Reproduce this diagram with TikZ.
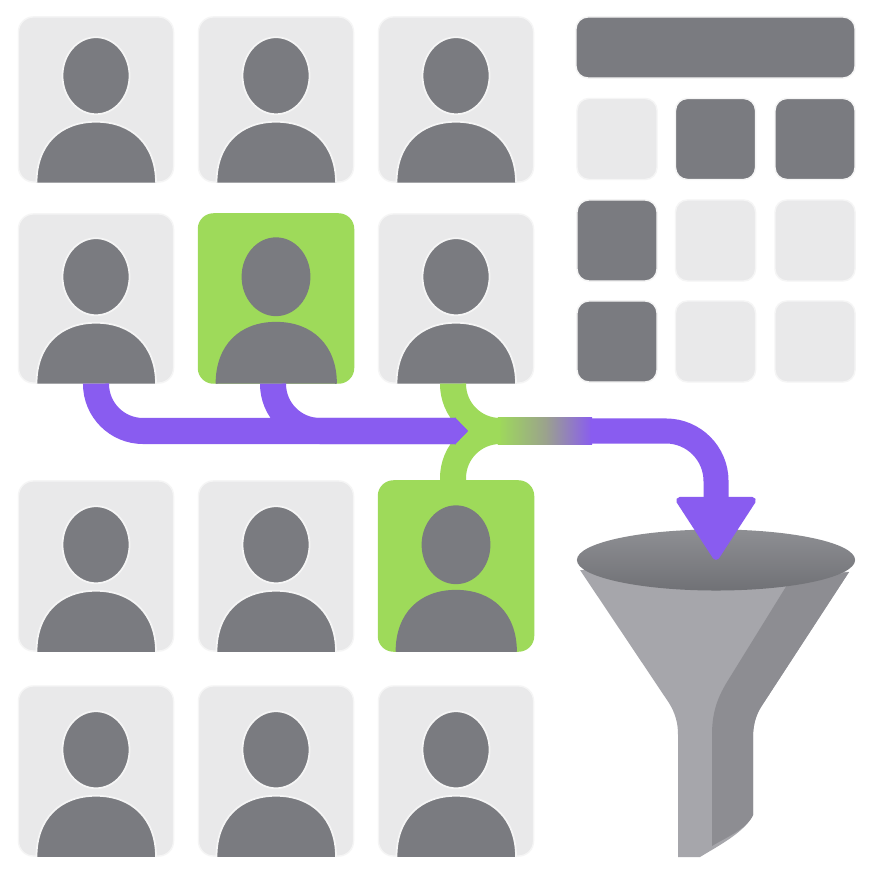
\documentclass[tikz,border=0pt]{standalone}
\usetikzlibrary{
    shapes.geometric,
    arrows.meta
}
\definecolor{cardgray}{RGB}{233,233,234}
\definecolor{persongray}{RGB}{122,123,128}
\definecolor{halo}{RGB}{245,245,245}
\definecolor{cardgreen}{RGB}{158,218,90}
\definecolor{flowpurple}{RGB}{137,92,240}
\definecolor{fadegray}{RGB}{155,163,140}
\definecolor{funnellight}{RGB}{166,166,171}
\definecolor{funneldark}{RGB}{141,141,146}
\tikzset{
    % Cards
    card/.style={
        rectangle,
        fill=cardgray,
        draw=halo,
        line width=0.4pt,
        rounded corners=0.15cm,
        minimum width=1.55cm,
        inner sep=0pt
    },
    pickedcard/.style={
        card,
        fill=cardgreen,
        draw=cardgreen
    },
    % Person figure
    personedge/.style={
        draw=halo
    },
    pickededge/.style={
        personedge/.style={draw=persongray}
    },
    head/.style={
        ellipse,
        fill=persongray,
        personedge,
        line width=0.5pt,
        minimum width=0.67cm,
        minimum height=0.77cm,
        inner sep=0pt
    },
    person/.pic={
        \draw[fill=persongray, personedge, line width=0.5pt] (-59.5,0)
            .. controls (-59.5,-38) and (-36,-61) .. (0,-61)
            .. controls (36,-61) and (60,-38) .. (60,0);
        \node[head] (-head) at (0,-107) {};
    },
    % Table
    tile/.style={
        rectangle,
        fill=cardgray,
        draw=halo,
        line width=0.4pt,
        rounded corners=0.12cm,
        minimum width=0.80cm,
        minimum height=0.81cm,
        inner sep=0pt
    },
    darktile/.style={
        tile,
        fill=persongray
    },
    % Flow lines
    purpleline/.style={
        draw=flowpurple,
        line width=0.26cm,
        rounded corners=0.47cm,
        -{Triangle[width=0.26cm,length=0.13cm]}
    },
    greenline/.style={
        draw=cardgreen,
        line width=0.26cm,
        rounded corners=0.47cm
    },
    bigarrow/.style={
        draw=flowpurple,
        line width=0.25cm,
        rounded corners=0.5cm,
        -{Triangle[round,line width=2pt,width=0.84cm,length=0.66cm]}
    },
    fadebar/.style={
        rectangle,
        left color=cardgreen,
        right color=flowpurple,
        middle color=fadegray,
        minimum width=0.94cm,
        minimum height=0.26cm,
        inner sep=0pt
    }
}

\begin{document}
\begin{tikzpicture}[x=0.01cm, y=-0.01cm]

    % Canvas
    \fill[white] (0,0) rectangle (874,874);
    \useasboundingbox (0,0) rectangle (874,874);

    % Cards
    \node[card, minimum height=1.65cm] (c11) at (96,99.5) {};
    \node[card, minimum height=1.65cm] (c12) at (276,99.5) {};
    \node[card, minimum height=1.65cm] (c13) at (456,99.5) {};
    \node[card, minimum height=1.69cm] (c21) at (96,298.5) {};
    \node[pickedcard, minimum height=1.69cm] (c22) at (276,298.5) {};
    \node[card, minimum height=1.69cm] (c23) at (456,298.5) {};
    \node[card, minimum height=1.70cm] (c31) at (96,566) {};
    \node[card, minimum height=1.70cm] (c32) at (276,566) {};
    \node[pickedcard, minimum height=1.70cm] (c33) at (456,566) {};
    \node[card, minimum height=1.70cm] (c41) at (96,771) {};
    \node[card, minimum height=1.70cm] (c42) at (276,771) {};
    \node[card, minimum height=1.70cm] (c43) at (456,771) {};

    % People
    \pic (p11) at (c11.south) {person};
    \pic (p12) at (c12.south) {person};
    \pic (p13) at (c13.south) {person};
    \pic (p21) at (c21.south) {person};
    \pic[pickededge] (p22) at (c22.south) {person};
    \pic (p23) at (c23.south) {person};
    \pic (p31) at (c31.south) {person};
    \pic (p32) at (c32.south) {person};
    \pic[pickededge] (p33) at (c33.south) {person};
    \pic (p41) at (c41.south) {person};
    \pic (p42) at (c42.south) {person};
    \pic (p43) at (c43.south) {person};

    % Table
    \node[darktile, minimum width=2.79cm, minimum height=0.61cm] (bar) at (715.5,47.5) {};
    \node[tile] (t11) at (617,139) {};
    \node[darktile] (t12) at (715.5,139) {};
    \node[darktile] (t13) at (815,139) {};
    \node[darktile] (t21) at (617,240.5) {};
    \node[tile] (t22) at (715.5,240.5) {};
    \node[tile] (t23) at (815,240.5) {};
    \node[darktile] (t31) at (617,341.5) {};
    \node[tile] (t32) at (715.5,341.5) {};
    \node[tile] (t33) at (815,341.5) {};

    % Funnel
    \fill[funnellight] (580,570) -- (669,703)
        .. controls (675,713) and (678,722) .. (678,735)
        -- (678,857) -- (700,857)
        .. controls (718,846) and (745,832) .. (753,815)
        -- (753,737)
        .. controls (753,725) and (756,715) .. (761,707)
        -- (849,572) -- cycle;
    \fill[funneldark] (787,585) -- (727,682)
        .. controls (716,700) and (712,715) .. (712,735)
        -- (712,846)
        .. controls (725,838) and (747,829) .. (753,815)
        -- (753,737)
        .. controls (753,725) and (756,715) .. (761,707)
        -- (849,572) -- cycle;
    \node[ellipse, top color=persongray!85!white, bottom color=persongray!92!black,
        minimum width=2.78cm, minimum height=0.61cm, inner sep=0pt] (mouth) at (716,560) {};

    % Flow
    \node[fadebar] (fade) at (545,431) {};
    \draw[greenline] (c23.south) ++(-3,0) |- (fade.west);
    \draw[greenline] (c33.north) ++(-3,0) |- (fade.west);
    \coordinate (merge) at (468,431);
    \draw[purpleline] (c21.south) |- (merge);
    \draw[purpleline] (c22.south) ++(-3,0) |- (merge);
    \draw[bigarrow] (fade.east) ++(-2,0) -| (mouth.center);

\end{tikzpicture}
\end{document}
